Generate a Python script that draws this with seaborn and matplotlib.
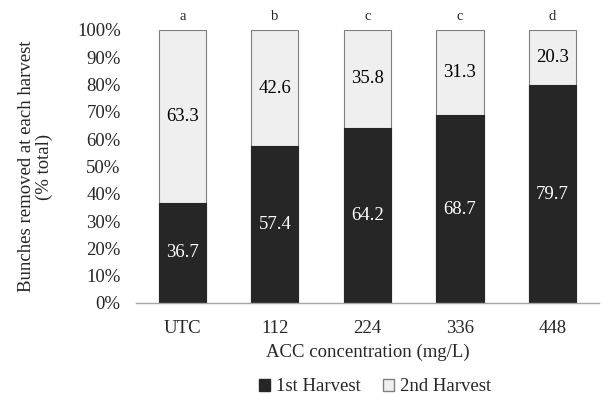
import matplotlib
matplotlib.use("Agg")
import matplotlib.pyplot as plt
import seaborn as sns
import pandas as pd
from matplotlib.patches import Patch

categories = ["UTC", "112", "224", "336", "448"]
first_harvest = [36.7, 57.4, 64.2, 68.7, 79.7]
second_harvest = [63.3, 42.6, 35.8, 31.3, 20.3]
letters = ["a", "b", "c", "c", "d"]
yticks = [0, 10, 20, 30, 40, 50, 60, 70, 80, 90, 100]

sns.set_style("white")
plt.rcParams["font.family"] = ["Liberation Serif", "DejaVu Serif"]

df = pd.DataFrame({"cat": categories, "first": first_harvest, "second": second_harvest})
df["total"] = df["first"] + df["second"]

fig = plt.figure(figsize=(6.03, 3.94), dpi=100)
ax = fig.add_axes([0.2255, 0.231, 0.7675, 0.693])

dark = "#262626"
light = "#efefef"
edge = "#7f7f7f"
FS = 13.5

sns.barplot(data=df, x="cat", y="total", color=light, edgecolor=edge, linewidth=0.8,
            width=0.51, ax=ax, saturation=1)
sns.barplot(data=df, x="cat", y="first", color=dark, edgecolor=dark, linewidth=0.8,
            width=0.51, ax=ax, saturation=1)

light_bars = ax.containers[0]
dark_bars = ax.containers[1]
ax.bar_label(dark_bars, labels=[f"{v:.1f}" for v in first_harvest], label_type="center",
             color="white", fontsize=FS)
for rect, v, f in zip(light_bars, second_harvest, first_harvest):
    x = rect.get_x() + rect.get_width() / 2
    ax.text(x, f + v / 2, f"{v:.1f}", ha="center", va="center", color="black", fontsize=FS)
for rect, lt in zip(light_bars, letters):
    x = rect.get_x() + rect.get_width() / 2
    ax.text(x, 102.5, lt, ha="center", va="bottom", fontsize=10.5)

ax.set_xlim(-0.5, 4.5)
ax.set_ylim(0, 100)
ax.set_yticks(yticks)
ax.set_yticklabels([f"{t}%" for t in yticks], fontsize=FS)
ax.tick_params(axis="x", labelsize=FS, pad=12, length=0)
ax.tick_params(axis="y", length=0, pad=11)
ax.set_xlabel("ACC concentration (mg/L)", fontsize=FS, labelpad=5)
ax.set_ylabel("Bunches removed at each harvest\n(% total)", fontsize=FS, labelpad=17,
              linespacing=1.1)
for s in ["top", "right", "left"]:
    ax.spines[s].set_visible(False)
ax.spines["bottom"].set_color("#a6a6a6")
ax.spines["bottom"].set_linewidth(1)

handles = [Patch(facecolor=dark, edgecolor=dark, label="1st Harvest"),
           Patch(facecolor=light, edgecolor=edge, label="2nd Harvest")]
fig.legend(handles=handles, loc="center", bbox_to_anchor=(0.622, 0.018), ncol=2, frameon=False,
           fontsize=FS, handlelength=0.6, handleheight=0.6, handletextpad=0.3, columnspacing=1.2,
           borderpad=0.1)

fig.savefig("out.png", dpi=100)
